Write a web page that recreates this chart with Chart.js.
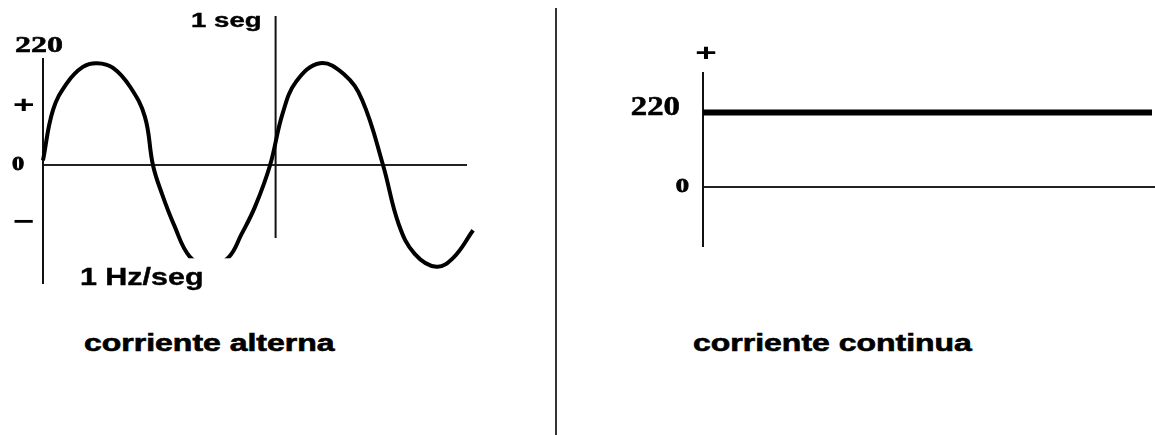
<!DOCTYPE html>
<html>
<head>
<meta charset="utf-8">
<script src="https://cdn.jsdelivr.net/npm/chart.js@4.4.0/dist/chart.umd.min.js"></script>
<style>
  body { margin: 0; background: #fff; width: 1155px; height: 435px; position: relative; overflow: hidden; }
  #ac { position: absolute; left: 0; top: 0; }
  #dc { position: absolute; left: 580px; top: 0; }
  #divider { position: absolute; left: 555px; top: 8px; width: 2px; height: 427px; background: #333; }
  .caption { position: absolute; top: 332px; font: bold 23px "Liberation Sans", Arial, sans-serif; line-height: 23px;
             color: #000; transform: scaleX(1.39); transform-origin: left top; white-space: nowrap;
             -webkit-text-stroke: 0.6px #000; }
</style>
</head>
<body>
<canvas id="ac" width="556" height="300"></canvas>
<div id="divider"></div>
<canvas id="dc" width="575" height="300"></canvas>
<div class="caption" style="left:84px">corriente alterna</div>
<div class="caption" style="left:693px">corriente continua</div>

<script>
// CORRIENTE ALTERNA (seconds, volts)
const acTimes = [0, 0.044, 0.105, 0.175, 0.237, 0.307, 0.382, 0.447, 0.482, 0.520, 0.575, 0.645, 0.732, 0.815, 0.870,
                 0.930, 0.996, 1.050, 1.110, 1.215, 1.320, 1.400, 1.491, 1.560, 1.630, 1.725, 1.800, 1.886];
const acVolts = [10, 119, 177, 212, 220, 210, 169, 104, 0, -60, -130, -199, -220, -199, -150,
                 -90, 0, 110, 180, 220, 196, 140, 0, -128, -192, -220, -200, -141];
// the "1 seg" marker
const secMarkTimes = [1.02, 1.02];
const secMarkVolts = [322, -158];
// tick-like labels on the vertical axis
const acLabels = ['220', '+', '0', '\u2212'];
const acLabelVolts = [260, 128, 0, -125];

// CORRIENTE CONTINUA
const dcTimes = [0, 6];
const dcVolts = [220, 220];
const dcLabels = ['+', '220', '0'];
const dcLabelVolts = [393, 236, 0];

const toPoints = (xs, ys) => xs.map((x, i) => ({x: x, y: ys[i]}));

// draws the loose texts at positions given by the scales
const textMarks = {
  id: 'textMarks',
  afterDatasetsDraw(chart, args, opts) {
    const ctx = chart.ctx;
    const xs = chart.scales.x, ys = chart.scales.y;
    ctx.save();
    (opts.items || []).forEach((it) => {
      const x = (it.t !== undefined ? xs.getPixelForValue(it.t) : chart.chartArea.left) + (it.dx || 0);
      const y = ys.getPixelForValue(it.v) + (it.dy || 0);
      if (it.mask) {
        ctx.fillStyle = '#fff';
        ctx.fillRect(x + it.mask[0], y + it.mask[1], it.mask[2] - it.mask[0], it.mask[3] - it.mask[1]);
      }
      ctx.save();
      ctx.translate(x, y);
      ctx.scale(it.sx || 1, 1);
      ctx.font = it.font;
      ctx.fillStyle = '#000';
      ctx.strokeStyle = '#000';
      ctx.lineWidth = it.stroke || 0;
      ctx.textAlign = it.align || 'left';
      ctx.textBaseline = it.baseline || 'middle';
      ctx.fillText(it.text, 0, 0);
      if (it.stroke) ctx.strokeText(it.text, 0, 0);
      ctx.restore();
    });
    ctx.restore();
  }
};

const axisScales = (xMax, yMin, yMax) => ({
  x: {
    type: 'linear', min: 0, max: xMax, position: {y: 0},
    ticks: {display: false},
    grid: {display: false, drawTicks: false, tickLength: 0},
    border: {display: true, color: '#222', width: 2}
  },
  y: {
    min: yMin, max: yMax,
    ticks: {display: false},
    grid: {display: false, drawTicks: false, tickLength: 0},
    border: {display: true, color: '#111', width: 2}
  }
});

// LEFT: alternating current
const acStyles = [
  {font: 'bold 24px "Liberation Serif"', sx: 1.33, align: 'center', dx: -4, dy: 1, stroke: 0.6},
  {font: 'bold 23px "Liberation Sans"', sx: 1.6, align: 'left', dx: -30, dy: 1},
  {font: 'bold 18px "Liberation Serif"', sx: 1.35, align: 'left', dx: -31, dy: 0, stroke: 0.8},
  {font: 'bold 26px "Liberation Sans"', sx: 1.4, align: 'left', dx: -30, dy: 0}
];
const acItems = acLabels.map((t, i) => Object.assign({text: t, v: acLabelVolts[i]}, acStyles[i]));
acItems.push({text: '1 Hz/seg', t: 0.162, v: -260, font: 'bold 24px "Liberation Sans"', sx: 1.27,
              baseline: 'alphabetic', mask: [-5, -27, 152, 13], stroke: 0.4});
acItems.push({text: '1 seg', t: secMarkTimes[0], v: 298, dx: -14, font: 'bold 20px "Liberation Sans"', sx: 1.38,
              align: 'right', baseline: 'alphabetic', stroke: 0.4});

new Chart(document.getElementById('ac'), {
  type: 'line',
  data: {
    datasets: [
      {data: toPoints(acTimes, acVolts), borderColor: '#000', borderWidth: 4, pointRadius: 0,
       tension: 0.4, clip: false},
      {data: toPoints(secMarkTimes, secMarkVolts), borderColor: '#111', borderWidth: 2, pointRadius: 0, clip: false}
    ]
  },
  options: {
    responsive: false, animation: false, devicePixelRatio: 1,
    layout: {padding: {left: 43, top: 59, right: 90, bottom: 17}},
    plugins: {legend: {display: false}, tooltip: {enabled: false}, textMarks: {items: acItems}},
    scales: axisScales(1.855, -255, 229)
  },
  plugins: [textMarks]
});

// RIGHT: direct current
const dcStyles = [
  {font: 'bold 23px "Liberation Sans"', sx: 1.6, align: 'center', dx: 3, dy: 1},
  {font: 'bold 28px "Liberation Serif"', sx: 1.17, align: 'right', dx: -23, dy: 1, stroke: 0.6},
  {font: 'bold 19px "Liberation Serif"', sx: 1.4, align: 'right', dx: -14, dy: 0, stroke: 0.8}
];
const dcItems = dcLabels.map((t, i) => Object.assign({text: t, v: dcLabelVolts[i]}, dcStyles[i]));

new Chart(document.getElementById('dc'), {
  type: 'line',
  data: {
    datasets: [
      {data: toPoints(dcTimes, dcVolts), borderColor: '#000', borderWidth: 6, pointRadius: 0,
       borderCapStyle: 'butt', clip: false}
    ]
  },
  options: {
    responsive: false, animation: false, devicePixelRatio: 1,
    layout: {padding: {left: 123, top: 73, right: 0, bottom: 54}},
    plugins: {legend: {display: false}, tooltip: {enabled: false}, textMarks: {items: dcItems}},
    scales: axisScales(6.04, -174, 337)
  },
  plugins: [textMarks]
});
</script>
</body>
</html>
